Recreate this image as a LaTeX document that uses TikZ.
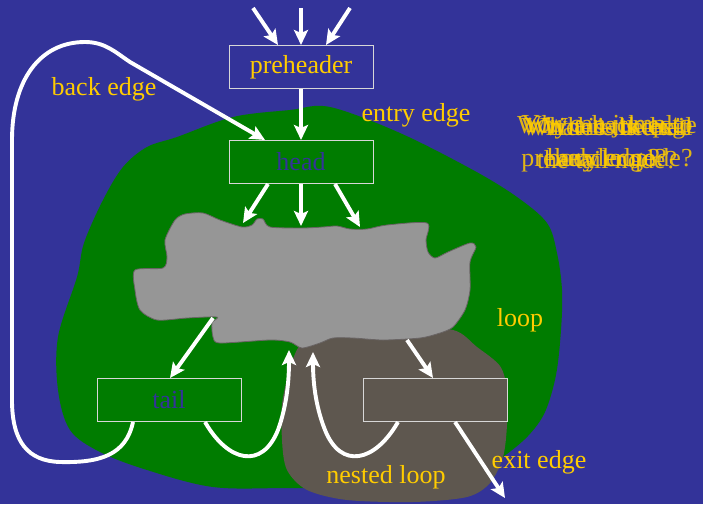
\documentclass[tikz,border=0pt]{standalone}
\usepackage{fontspec}
\setmainfont{Liberation Serif}
\usetikzlibrary{arrows.meta}
\definecolor{bgblue}{RGB}{51,51,153}
\definecolor{loopgreen}{RGB}{0,124,0}
\definecolor{bodygray}{RGB}{150,150,150}
\definecolor{bodyedge}{RGB}{105,100,100}
\definecolor{nestbrown}{RGB}{94,87,79}
\definecolor{txtyellow}{RGB}{255,204,0}
\definecolor{boxedge}{RGB}{215,215,215}
\tikzset{
  blockbox/.style={draw=boxedge, line width=1pt, minimum width=144pt, minimum height=43pt, inner sep=0pt, font=\fontsize{26}{30}\selectfont},
  lbl/.style={text=txtyellow, font=\fontsize{26}{30}\selectfont, inner sep=0pt},
  qtxt/.style={text=txtyellow, font=\fontsize{26}{30}\selectfont, inner sep=0pt, opacity=0.85},
  arr/.style={draw=white, line width=3.9pt, -{Stealth[length=15pt,width=14pt,inset=3pt]}},
}
\begin{document}
\begin{tikzpicture}[x=1pt,y=-1pt]
\useasboundingbox (0,0) rectangle (703,504);
\fill[bgblue] (0,0) rectangle (703,504);
% loop region
\fill[loopgreen] plot[smooth cycle, tension=0.55] coordinates {
 (330,107) (400,133) (473,170) (517,197) (547,223) (557,253) (562,290) (561,330)
 (556,375) (545,412) (528,436) (503,457) (470,480) (420,487) (290,488) (213,487)
 (147,470) (100,452) (70,430) (58,390) (58,337) (77,277) (84,243) (103,200)
 (123,167) (147,147) (177,137) (233,117) (290,110)};
% nested loop region
\fill[nestbrown] plot[smooth cycle, tension=0.5] coordinates {
 (300,345) (337,333) (400,330) (453,330) (477,347) (500,366) (507,390) (507,425)
 (503,457) (490,483) (467,497) (413,502) (347,500) (307,490) (287,470) (282,440)
 (283,397)};
% loop body
\filldraw[fill=bodygray, draw=bodyedge, line width=0.8pt] plot[smooth cycle, tension=0.45] coordinates {
 (135,270) (163,268) (167,257) (165,240) (175,220) (185,214) (203,213) (220,220)
 (242,227) (252,225) (257,219) (263,219) (270,227) (302,228) (323,227) (337,226)
 (350,229) (367,229) (387,225) (427,223) (426,240) (428,252) (435,258) (448,252)
 (470,243) (476,247) (470,262) (470,290) (465,310) (453,327) (440,333) (420,338)
 (383,340) (353,338) (333,338) (320,343) (302,348) (290,342) (270,340) (220,343)
 (213,337) (212,323) (217,317) (187,318) (157,320) (140,310) (135,290)};
% blocks
\node[blockbox, text=txtyellow] (pre) at (301,67) {preheader};
\node[blockbox, text=bgblue] (head) at (301,162) {head};
\node[blockbox, text=bgblue] (tail) at (169,400) {tail};
\node[blockbox, fill=nestbrown] (nest) at (435,400) {};
% body attachment points
\coordinate (bt1) at (243,223);
\coordinate (bt2) at (301,226);
\coordinate (bt3) at (360,227);
\coordinate (bb1) at (213,318);
\coordinate (bb2) at (407,340);
\coordinate (bin1) at (289,350);
\coordinate (bin2) at (313,352);
% entry arrows
\coordinate (in1) at (253,8);
\coordinate (in2) at (301,8);
\coordinate (in3) at (350,8);
\draw[arr] (in1) -- ([xshift=-23pt]pre.north);
\draw[arr] (in2) -- (pre.north);
\draw[arr] (in3) -- ([xshift=25pt]pre.north);
\draw[arr] (pre.south) -- (head.north);
\draw[arr] ([xshift=-33pt]head.south) -- (bt1);
\draw[arr] (head.south) -- (bt2);
\draw[arr] ([xshift=34pt]head.south) -- (bt3);
\draw[arr] (bb1) -- ([xshift=1pt]tail.north);
\draw[arr] (bb2) -- ([xshift=-2pt]nest.north);
% back edges inside
\draw[arr] ([xshift=36pt]tail.south) .. controls (228,462) and (262,470) .. (278,430) .. controls (287,405) and (289,380) .. (bin1);
\draw[arr] ([xshift=-37pt]nest.south) .. controls (375,462) and (341,470) .. (325,430) .. controls (315,405) and (313,380) .. (bin2);
% exit edge
\coordinate (exitend) at (505,498);
\draw[arr] ([xshift=20pt]nest.south) -- (exitend);
% back edge
\draw[arr] ([xshift=-36pt]tail.south) .. controls (126,455) and (100,463) .. (60,462) .. controls (28,461) and (12,442) .. (12,400) -- (12,140) .. controls (12,80) and (40,42) .. (85,42) .. controls (105,42) and (115,52) .. (130,62) -- ([xshift=-36pt]head.north);
% labels
\node[lbl] (lback) at (104,89) {back edge};
\node[lbl] (lentry) at (416,115) {entry edge};
\node[lbl] (lloop) at (520,320) {loop};
\node[lbl] (lnest) at (386,477) {nested loop};
\node[lbl] (lexit) at (539,462) {exit edge};
% overlapping question texts
\node[qtxt] (q1) at (607,127) {You can jump to};
\node[qtxt] (q2) at (607,127) {Which is the tail};
\node[qtxt] (q3) at (607,127) {What is the exit};
\node[qtxt] (q4) at (607,127) {Why a back edge};
\node[qtxt] (q5) at (609,127) {Where is the};
\node[qtxt] (r1) at (607,160) {preheader node?};
\node[qtxt] (r2) at (607,160) {the tail node?};
\node[qtxt] (r3) at (607,160) {body edge?};
\node[qtxt] (r4) at (609,160) {any loop?};
\end{tikzpicture}
\end{document}
